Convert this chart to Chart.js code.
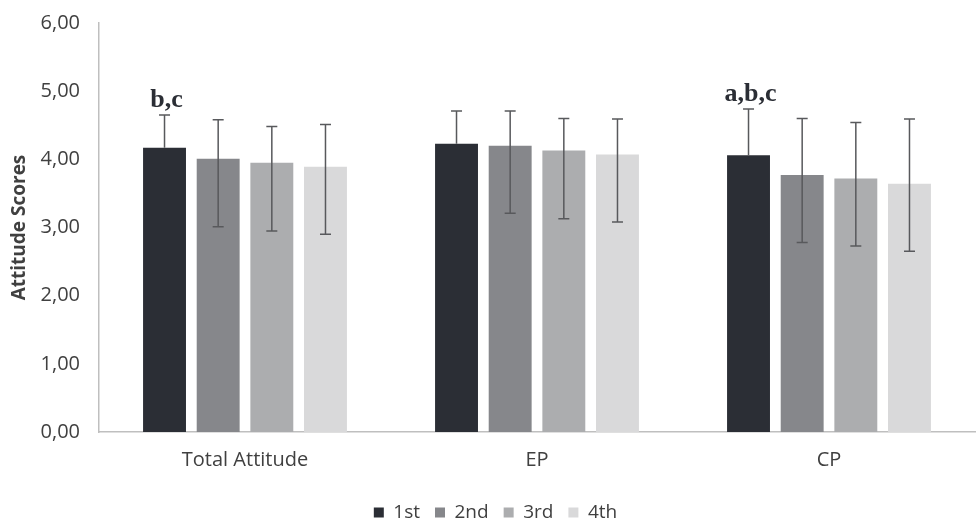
<!DOCTYPE html>
<html>
<head>
<meta charset="utf-8">
<script src="https://cdn.jsdelivr.net/npm/chart.js@4"></script>
<style>
    html, body { margin: 0; padding: 0; background: #fff; }
    #wrap { width: 977px; height: 519px; }
</style>
</head>
<body>
<div id="wrap"><canvas id="chart" width="977" height="519"></canvas></div>
<script>
const categories = ["Total Attitude", "EP", "CP"];
const seriesNames = ["1st", "2nd", "3rd", "4th"];
const colors = ["#2b2e35", "#86878b", "#acadaf", "#d9d9da"];

const first = [4.17, 4.23, 4.06];
const second = [4.01, 4.20, 3.77];
const third = [3.95, 4.13, 3.72];
const fourth = [3.89, 4.07, 3.64];

// top / bottom of the error whiskers (bottom of 1st is hidden in the bar)
const firstHigh = [4.65, 4.71, 4.74];
const secondHigh = [4.58, 4.71, 4.60];
const thirdHigh = [4.48, 4.60, 4.54];
const fourthHigh = [4.51, 4.59, 4.59];
const firstLow = [null, null, null];
const secondLow = [3.01, 3.21, 2.78];
const thirdLow = [2.95, 3.13, 2.73];
const fourthLow = [2.90, 3.08, 2.65];

const sigLabels = ["b,c", "", "a,b,c"];
const yTicks = [0, 1, 2, 3, 4, 5, 6];

const values = [first, second, third, fourth];
const highs = [firstHigh, secondHigh, thirdHigh, fourthHigh];
const lows = [firstLow, secondLow, thirdLow, fourthLow];

const errorBars = {
    id: "errorBars",
    afterDatasetsDraw(chart) {
        const ctx = chart.ctx;
        const y = chart.scales.y;
        ctx.save();
        ctx.strokeStyle = "#58595c";
        ctx.lineWidth = 1.5;
        chart.data.datasets.forEach((ds, di) => {
            const meta = chart.getDatasetMeta(di);
            meta.data.forEach((bar, i) => {
                const x = bar.x;
                const top = y.getPixelForValue(highs[di][i]);
                const bottom = lows[di][i] == null ? bar.y : y.getPixelForValue(lows[di][i]);
                ctx.beginPath();
                ctx.moveTo(x, top);
                ctx.lineTo(x, bottom);
                ctx.moveTo(x - 5.5, top);
                ctx.lineTo(x + 5.5, top);
                if (lows[di][i] != null) {
                    ctx.moveTo(x - 5.5, bottom);
                    ctx.lineTo(x + 5.5, bottom);
                }
                ctx.stroke();
            });
        });
        // significance letters above the 1st bars
        const meta0 = chart.getDatasetMeta(0);
        ctx.fillStyle = "#2b2e35";
        ctx.font = "bold 26px 'Liberation Serif'";
        ctx.textAlign = "center";
        ctx.textBaseline = "alphabetic";
        meta0.data.forEach((bar, i) => {
            if (!sigLabels[i]) return;
            ctx.fillText(sigLabels[i], bar.x + 2, y.getPixelForValue(highs[0][i]) - 8);
        });
        ctx.restore();
    }
};

new Chart(document.getElementById("chart"), {
    type: "bar",
    data: {
        labels: categories,
        datasets: seriesNames.map((name, i) => ({
            label: name,
            data: values[i],
            backgroundColor: colors[i],
            barPercentage: 0.8,
            categoryPercentage: 0.735
        }))
    },
    options: {
        responsive: false,
        animation: false,
        layout: { padding: { top: 0, right: 2, left: 16, bottom: -13 } },
        plugins: {
            tooltip: { enabled: false },
            legend: {
                position: "bottom",
                labels: {
                    boxWidth: 10,
                    boxHeight: 10,
                    padding: 15,
                    color: "#404040",
                    font: { family: "'Open Sans'", size: 19 }
                }
            }
        },
        scales: {
            x: {
                grid: { display: false, drawTicks: false },
                border: { color: "#bfbfbf", width: 1.5 },
                ticks: {
                    color: "#404040",
                    padding: 22,
                    font: { family: "'Open Sans'", size: 20, lineHeight: 0.6 }
                }
            },
            y: {
                min: 0,
                max: 6,
                afterBuildTicks: axis => { axis.ticks = yTicks.map(v => ({ value: v })); },
                afterFit: axis => { axis.width = 83; },
                grid: { display: false, drawTicks: false },
                border: { color: "#bfbfbf", width: 1.5 },
                ticks: {
                    color: "#404040",
                    padding: 19,
                    font: { family: "'Open Sans'", size: 20, lineHeight: 0.4 },
                    callback: v => v.toFixed(2).replace(".", ",")
                },
                title: {
                    display: true,
                    text: "Attitude Scores",
                    color: "#404040",
                    padding: { top: -8, bottom: 0 },
                    font: { family: "'Open Sans'", size: 19, weight: "bold" }
                }
            }
        }
    },
    plugins: [errorBars]
});
</script>
</body>
</html>
